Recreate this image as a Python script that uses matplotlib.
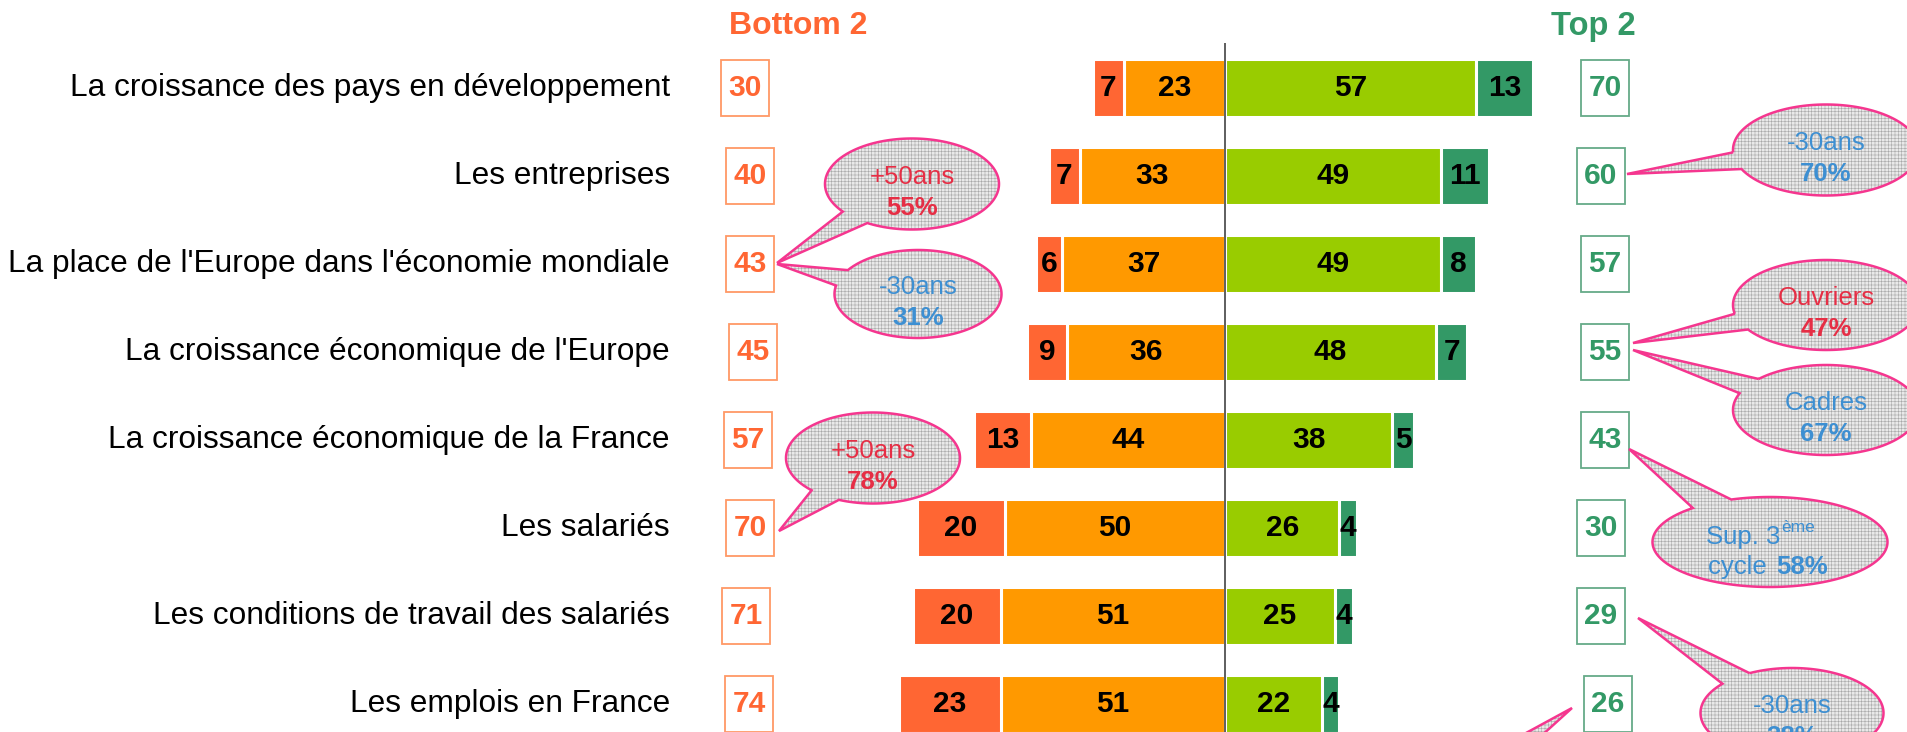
import numpy as np
import matplotlib
matplotlib.use("Agg")
import matplotlib.pyplot as plt
from matplotlib.patches import Rectangle, Polygon

plt.rcParams["font.family"] = ["Liberation Sans", "DejaVu Sans"]
plt.rcParams["hatch.linewidth"] = 0.4

categories = [
    "La croissance des pays en développement",
    "Les entreprises",
    "La place de l'Europe dans l'économie mondiale",
    "La croissance économique de l'Europe",
    "La croissance économique de la France",
    "Les salariés",
    "Les conditions de travail des salariés",
    "Les emplois en France",
]
tres_negatif = [7, 7, 6, 9, 13, 20, 20, 23]
plutot_negatif = [23, 33, 37, 36, 44, 50, 51, 51]
plutot_positif = [57, 49, 49, 48, 38, 26, 25, 22]
tres_positif = [13, 11, 8, 7, 5, 4, 4, 4]
bottom2 = [30, 40, 43, 45, 57, 70, 71, 74]
top2 = [70, 60, 57, 55, 43, 30, 29, 26]

C_RED = "#FF6633"
C_ORANGE = "#FF9900"
C_LIME = "#99CC00"
C_GREEN = "#339966"
C_PINK = "#F5368F"
C_TXT_RED = "#E62E45"
C_TXT_BLUE = "#3D8FD2"

# mise en page (pixels)
W, H = 1908, 732
X0 = 1225      # axe central
PX = 4.4       # pixels par point de %
ROW0, ROWH = 88, 88

fig = plt.figure(figsize=(W / 100, H / 100), dpi=100)
ax = fig.add_axes([0, 0, 1, 1])
ax.set_xlim(-X0 / PX, (W - X0) / PX)
ax.set_ylim((H - ROW0) / ROWH, -ROW0 / ROWH)
ax.axis("off")


def dx(px):
    return (px - X0) / PX


def dy(py):
    return (py - ROW0) / ROWH


y = np.arange(len(categories))
tn = np.array(tres_negatif)
pn = np.array(plutot_negatif)
pp = np.array(plutot_positif)
tp = np.array(tres_positif)

bh = 0.65
kw = dict(height=bh, edgecolor="white", linewidth=2.2, zorder=2)
ax.barh(y, pn, left=-pn, color=C_ORANGE, **kw)
ax.barh(y, tn, left=-pn - tn, color=C_RED, **kw)
ax.barh(y, pp, left=0, color=C_LIME, **kw)
ax.barh(y, tp, left=pp, color=C_GREEN, **kw)

lab = dict(ha="center", va="center", fontsize=21.5, fontweight="bold", color="black", zorder=4)
for i in y:
    ax.text(-pn[i] / 2, i, str(pn[i]), **lab)
    ax.text(-pn[i] - tn[i] / 2, i, str(tn[i]), **lab)
    ax.text(pp[i] / 2, i, str(pp[i]), **lab)
    ax.text(pp[i] + tp[i] / 2, i, str(tp[i]), **lab)
    ax.text(dx(670), i, categories[i], ha="right", va="center", fontsize=22.8, color="black")

ax.vlines(0, dy(43), dy(H + 5), color="#333333", linewidth=1.1, zorder=3)

# encadres Bottom 2 / Top 2
bot_x = [745, 750, 750, 753, 748, 750, 746, 749]
top_x = [1605, 1601, 1605, 1605, 1605, 1601, 1601, 1608]
bw, bhh = 48 / PX, 56 / ROWH
for i in y:
    ax.add_patch(Rectangle((dx(bot_x[i]) - bw / 2, i - bhh / 2), bw, bhh,
                           facecolor="white", edgecolor="#FF9966", linewidth=1.3, zorder=2))
    ax.text(dx(bot_x[i]), i, str(bottom2[i]), ha="center", va="center",
            fontsize=21.5, fontweight="bold", color=C_RED, zorder=3)
    ax.add_patch(Rectangle((dx(top_x[i]) - bw / 2, i - bhh / 2), bw, bhh,
                           facecolor="white", edgecolor="#66AA88", linewidth=1.3, zorder=2))
    ax.text(dx(top_x[i]), i, str(top2[i]), ha="center", va="center",
            fontsize=21.5, fontweight="bold", color=C_GREEN, zorder=3)

ax.text(dx(798), dy(26), "Bottom 2", ha="center", va="center", fontsize=23,
        fontweight="bold", color=C_RED)
ax.text(dx(1593), dy(26), "Top 2", ha="center", va="center", fontsize=23.5,
        fontweight="bold", color=C_GREEN)

# bulles (calque en pixels)
ov = fig.add_axes([0, 0, 1, 1], zorder=5)
ov.set_xlim(0, W)
ov.set_ylim(H, 0)
ov.axis("off")
ov.patch.set_alpha(0)


def bubble(cx, cy, w, h, tip, gap=0.19):
    a = np.arctan2((tip[1] - cy) / (h / 2), (tip[0] - cx) / (w / 2))
    t = np.linspace(a + gap, a + 2 * np.pi - gap, 240)
    pts = np.column_stack([cx + w / 2 * np.cos(t), cy + h / 2 * np.sin(t)])
    pts = np.vstack([pts, tip])
    ov.add_patch(Polygon(pts, closed=True, facecolor="#e9e9e9", edgecolor="#a8a8a8",
                         hatch="+++++", linewidth=0, zorder=1))
    ov.add_patch(Polygon(pts, closed=True, fill=False, edgecolor=C_PINK,
                         linewidth=1.8, zorder=2))


FS = 18.5
callouts = [
    (912, 184, 174, 91, (777, 263), "+50ans", "55%", C_TXT_RED),
    (918, 294, 167, 88, (777, 264), "-30ans", "31%", C_TXT_BLUE),
    (873, 458, 174, 91, (779, 531), "+50ans", "78%", C_TXT_RED),
    (1826, 150, 186, 91, (1627, 174), "-30ans", "70%", C_TXT_BLUE),
    (1826, 305, 186, 90, (1633, 343), "Ouvriers", "47%", C_TXT_RED),
    (1826, 410, 186, 90, (1633, 350), "Cadres", "67%", C_TXT_BLUE),
    (1792, 713, 183, 90, (1638, 618), "-30ans", "38%", C_TXT_BLUE),
]
for cx, cy, w, h, tip, l1, l2, col in callouts:
    bubble(cx, cy, w, h, tip)
    ov.text(cx, cy - 7, l1, ha="center", va="center", fontsize=FS, color=col, zorder=3)
    ov.text(cx, cy + 24, l2, ha="center", va="center", fontsize=FS,
            fontweight="bold", color=col, zorder=3)

# Sup. 3eme cycle
bubble(1770, 542, 235, 90, (1629, 449))
ov.text(1780, 537, "Sup. 3", ha="right", va="center", fontsize=FS, color=C_TXT_BLUE, zorder=3)
ov.text(1781, 528, "ème", ha="left", va="center", fontsize=12.5, color=C_TXT_BLUE, zorder=3)
ov.text(1774, 567, "cycle ", ha="right", va="center", fontsize=FS, color=C_TXT_BLUE, zorder=3)
ov.text(1776, 567, "58%", ha="left", va="center", fontsize=FS, fontweight="bold",
        color=C_TXT_BLUE, zorder=3)

# bulle hors cadre pointant vers 26
bubble(1440, 800, 180, 100, (1572, 708), gap=0.17)

fig.savefig("out.png", dpi=100)
